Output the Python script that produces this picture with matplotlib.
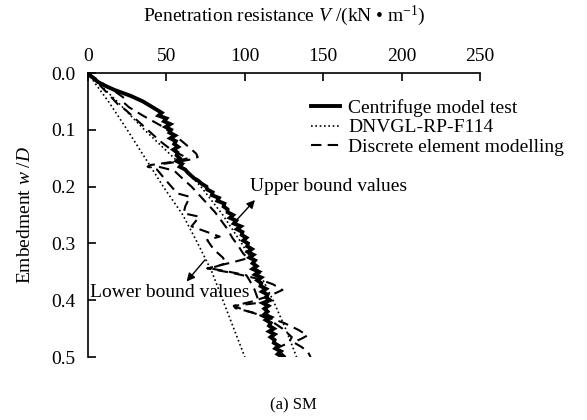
import numpy as np
import matplotlib
matplotlib.use("Agg")
import matplotlib.pyplot as plt

plt.rcParams["font.family"] = ["Liberation Serif", "DejaVu Serif"]
plt.rcParams["mathtext.fontset"] = "custom"
plt.rcParams["mathtext.rm"] = "Liberation Serif"
plt.rcParams["mathtext.it"] = "Liberation Serif:italic"

# Centrifuge model test (embedment step 0.005)
centrifuge_w = [i * 0.005 for i in range(101)]
centrifuge_v = [
    0, 1.5, 4, 6, 9, 13, 17, 22, 27, 31,
    35, 38, 41, 44, 47, 45, 50, 48.5, 52.5, 49.5,
    53, 52, 55.5, 52.5, 56, 55, 57.5, 54.5, 57, 56.5,
    58.5, 56.5, 60, 58.5, 62, 63.5, 65.5, 67.5, 70.5, 72.5,
    75.5, 76, 79.5, 79, 83.5, 82.5, 87, 86.5, 89, 89,
    92.5, 90.5, 94.5, 93, 97.5, 95, 98.5, 98, 101, 99,
    102, 101.5, 104.5, 102, 105.5, 103, 106.5, 105, 107.5, 105,
    109, 106.5, 110.5, 108, 110.5, 110, 113.5, 111, 114.5, 113.5,
    116, 111.5, 115, 112.5, 114.5, 112.5, 116.5, 113.5, 116.5, 115.5,
    118.5, 115.5, 119, 116.5, 119, 118.5, 121.5, 119.5, 123, 121,
    124,
]

# DNVGL-RP-F114 lower and upper bound estimates
dnv_w = [0, 0.02, 0.05, 0.1, 0.15, 0.2, 0.25, 0.3, 0.35, 0.4, 0.45, 0.5]
dnv_lower_v = [0, 5, 13, 25, 36.5, 48, 60.5, 70, 79, 86, 93, 100]
dnv_upper_v = [0, 7.5, 18.5, 36, 55, 72, 86, 98, 109, 118, 126, 133]

# Discrete element modelling, upper bound run
dem_upper_w = [0, 0.012, 0.025, 0.036, 0.044, 0.05, 0.06, 0.075, 0.095, 0.118,
               0.132, 0.142, 0.148, 0.152, 0.156, 0.160, 0.165, 0.172, 0.185, 0.2,
               0.215, 0.23, 0.245, 0.26, 0.275, 0.29, 0.305, 0.318, 0.326, 0.332,
               0.338, 0.344, 0.352, 0.362, 0.372, 0.382, 0.392, 0.402, 0.41, 0.418,
               0.428, 0.44, 0.452, 0.462, 0.468, 0.474, 0.482, 0.49, 0.5]
dem_upper_v = [0, 6, 13, 19, 23, 22, 26, 35, 48, 59,
               65, 69, 70, 66, 58, 48, 45, 55, 60, 66,
               71, 76, 81, 85, 89, 92, 96, 99, 102, 94,
               85, 76, 92, 108, 118, 124, 116, 105, 93, 100,
               112, 125, 134, 140, 136, 131, 136, 140, 142]

# Discrete element modelling, lower bound run
dem_lower_w = [0, 0.02, 0.04, 0.055, 0.065, 0.08, 0.1, 0.12, 0.135, 0.145,
               0.15, 0.156, 0.162, 0.165, 0.17, 0.19, 0.212, 0.218, 0.235, 0.247,
               0.253, 0.27, 0.28, 0.288, 0.294, 0.31, 0.325, 0.335, 0.344, 0.35,
               0.356, 0.365, 0.38, 0.395, 0.405, 0.41, 0.414, 0.423, 0.435, 0.45,
               0.465, 0.475, 0.485, 0.495, 0.5]
dem_lower_v = [0, 7, 14, 19, 24, 30, 38, 46, 53, 60,
               64, 55, 40, 38, 44, 50, 57, 65, 62, 61,
               71, 66, 76, 84, 76, 80, 86, 88, 78, 90,
               101, 103, 106, 108, 108, 93, 94, 107, 116, 124,
               130, 128, 120, 124, 126]

x_ticks = [0, 50, 100, 150, 200, 250]
y_ticks = [0.0, 0.1, 0.2, 0.3, 0.4, 0.5]

FS = 14

fig = plt.figure(figsize=(5.87, 4.20), dpi=100)
ax = fig.add_axes([88 / 587, 1 - 357 / 420, (480 - 88) / 587, (357 - 73) / 420])

ax.plot(centrifuge_v, centrifuge_w, color="black", lw=2.8, solid_joinstyle="miter",
        label="Centrifuge model test")
ax.plot(dnv_lower_v, dnv_w, color="black", lw=1.2, linestyle=(0, (1, 1.6)),
        label="DNVGL-RP-F114")
ax.plot(dnv_upper_v, dnv_w, color="black", lw=1.2, linestyle=(0, (1, 1.6)))
ax.plot(dem_upper_v, dem_upper_w, color="black", lw=1.5, linestyle=(0, (5, 3)),
        label="Discrete element modelling")
ax.plot(dem_lower_v, dem_lower_w, color="black", lw=1.5, linestyle=(0, (5, 3)))

ax.set_xlim(0, 250)
ax.set_ylim(0.5, 0.0)
ax.xaxis.tick_top()
ax.xaxis.set_label_position("top")
ax.set_xticks(x_ticks)
ax.set_xticklabels([str(t) for t in x_ticks])
ax.set_yticks(y_ticks)
ax.set_yticklabels([f"{t:.1f}" for t in y_ticks])
ax.tick_params(axis="both", direction="in", length=6, width=1.2, labelsize=FS)
ax.tick_params(axis="y", pad=9)
ax.tick_params(axis="x", pad=6)
for side in ("bottom", "right"):
    ax.spines[side].set_visible(False)
for side in ("top", "left"):
    ax.spines[side].set_linewidth(1.2)

ax.set_xlabel(r"Penetration resistance $V$ /(kN • m$^{-1}$)", fontsize=FS, labelpad=19)
ax.set_ylabel(r"Embedment $w$ /$D$", fontsize=FS, labelpad=12)

ax.legend(loc="upper left", bbox_to_anchor=(311 / 587, 1 - 99 / 420),
          bbox_transform=fig.transFigure, frameon=False, fontsize=FS,
          handlelength=1.5, handletextpad=0.4, labelspacing=0.1,
          borderpad=0, borderaxespad=0)

ax.annotate("", xy=(106.5, 0.2236), xytext=(94.8, 0.2588),
            arrowprops=dict(arrowstyle="-|>", color="black", lw=1.0,
                            mutation_scale=12, shrinkA=0, shrinkB=0))
ax.text(103, 0.199, "Upper bound values", fontsize=FS, ha="left", va="center")
ax.annotate("", xy=(62.9, 0.367), xytext=(74.6, 0.329),
            arrowprops=dict(arrowstyle="-|>", color="black", lw=1.0,
                            mutation_scale=12, shrinkA=0, shrinkB=0))
ax.text(1.3, 0.387, "Lower bound values", fontsize=FS, ha="left", va="center")

fig.text(293 / 587, 1 - 405 / 420, "(a) SM", fontsize=12, ha="center", va="center")

fig.savefig("out.png", dpi=100)
